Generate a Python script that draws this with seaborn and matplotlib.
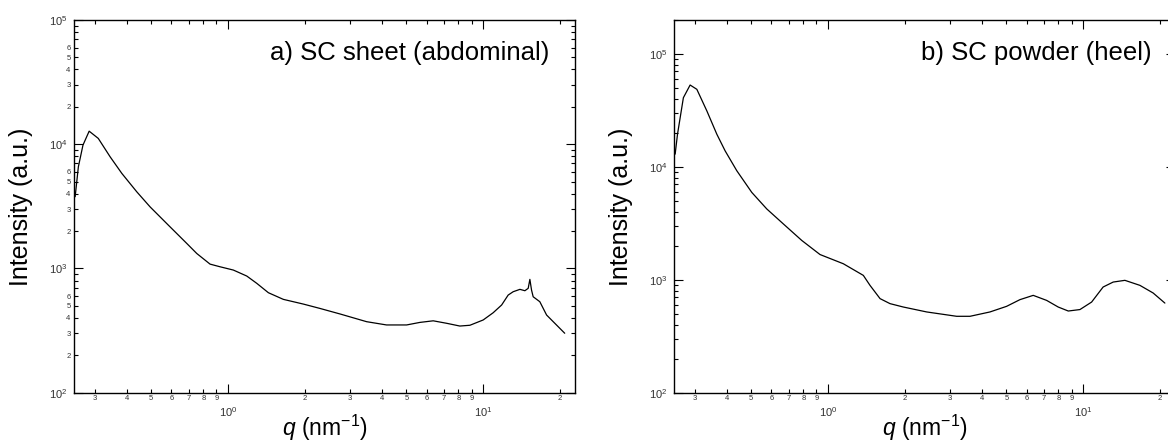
import numpy as np
import pandas as pd
import matplotlib
matplotlib.use("Agg")
import matplotlib.pyplot as plt
from matplotlib.ticker import LogLocator, FuncFormatter, NullFormatter
import seaborn as sns

# ---- data: scattering intensity vs. scattering vector q ----
q_sheet = [0.2516, 0.259, 0.270, 0.2855, 0.310, 0.345, 0.3835, 0.4388, 0.4949,
           0.5837, 0.689, 0.754, 0.850, 0.930, 1.049, 1.184, 1.296, 1.439, 1.647,
           1.972, 2.29, 2.75, 3.49, 4.18, 5.01, 5.65, 6.37, 7.19, 8.10, 8.87,
           10.0, 10.94, 11.81, 12.53, 13.11, 13.93, 14.57, 15.01, 15.24, 15.47,
           15.7, 16.67, 17.72, 20.87]
I_sheet = [3780, 6580, 9840, 12740, 11140, 7920, 5820, 4140, 3130,
           2230, 1590, 1320, 1084, 1032, 971, 869, 759, 638, 564,
           517, 477, 430, 373, 351, 351, 368, 379, 362, 344, 349,
           385, 440, 508, 611, 650, 679, 662, 692, 817, 670,
           592, 540, 422, 301]

q_powder = [0.2516, 0.257, 0.271, 0.288, 0.306, 0.335, 0.3665, 0.395, 0.4388,
            0.5025, 0.5753, 0.668, 0.789, 0.930, 1.148, 1.375, 1.460, 1.599,
            1.749, 1.972, 2.436, 3.192, 3.60, 4.311, 5.01, 5.65, 6.37, 7.19,
            7.98, 8.74, 9.71, 10.79, 11.97, 13.11, 14.57, 16.68, 18.80, 20.9]
I_powder = [12970, 19470, 41000, 53100, 48650, 31290, 19470, 13870, 9250,
            5940, 4240, 3125, 2230, 1674, 1387, 1094, 893, 681,
            615, 574, 519, 475, 475, 519, 582, 667, 728, 657,
            574, 529, 545, 635, 863, 955, 989, 893, 764, 622]

panel_titles = ["a) SC sheet (abdominal)", "b) SC powder (heel)"]
x_label = r"$q$ (nm$^{-1}$)"
y_label = "Intensity (a.u.)"

sns.set_theme(style="ticks")
plt.rcParams["font.family"] = ["Liberation Sans", "DejaVu Sans"]
plt.rcParams["mathtext.fontset"] = "custom"
plt.rcParams["mathtext.rm"] = "Liberation Sans"
plt.rcParams["mathtext.it"] = "Liberation Sans:italic"
plt.rcParams["mathtext.bf"] = "Liberation Sans:bold"

W, H = 1168, 442
fig = plt.figure(figsize=(W / 100, H / 100), dpi=100)
fig.patch.set_facecolor("white")

ax_w, ax_h = 501, 372.7
bottom = (H - 392.7) / H
ax_a = fig.add_axes([74 / W, bottom, ax_w / W, ax_h / H])
ax_b = fig.add_axes([674 / W, bottom, ax_w / W, ax_h / H])

frames = [
    pd.DataFrame({"q": q_sheet, "I": I_sheet}),
    pd.DataFrame({"q": q_powder, "I": I_powder}),
]
ylims = [(1e2, 1e5), (1e2, 2e5)]
title_x = [0.9487, 0.9535]


def major_fmt(v, pos):
    e = int(round(np.log10(v)))
    return r"$\mathregular{10^{%d}}$" % e


def minor_digit(v):
    e = np.floor(np.log10(v) + 1e-9)
    return int(round(v / 10 ** e))


x_minor_fmt = FuncFormatter(lambda v, pos: str(minor_digit(v)))
y_minor_fmt_a = FuncFormatter(
    lambda v, pos: str(minor_digit(v)) if 2 <= minor_digit(v) <= 6 else "")

for i, (ax, df) in enumerate(zip([ax_a, ax_b], frames)):
    sns.lineplot(data=df, x="q", y="I", ax=ax, color="black", lw=0.9,
                 estimator=None, sort=False)
    ax.set_xscale("log")
    ax.set_yscale("log")
    ax.set_xlim(0.249, 22.9)
    ax.set_ylim(*ylims[i])

    for axis in (ax.xaxis, ax.yaxis):
        axis.set_major_locator(LogLocator(base=10, numticks=12))
        axis.set_minor_locator(LogLocator(base=10, subs=np.arange(2, 10), numticks=12))
        axis.set_major_formatter(FuncFormatter(major_fmt))

    ax.xaxis.set_minor_formatter(x_minor_fmt)
    ax.yaxis.set_minor_formatter(y_minor_fmt_a if i == 0 else NullFormatter())

    ax.tick_params(which="both", direction="in", top=True, right=True,
                   colors="black", labelcolor="#333333")
    ax.tick_params(which="major", length=6.5, width=0.8, labelsize=8)
    ax.tick_params(which="minor", length=3, width=0.8, labelsize=5.5)
    ax.tick_params(axis="x", which="major", pad=9)
    ax.tick_params(axis="x", which="minor", pad=2)
    ax.tick_params(axis="y", which="major", pad=4.5)
    ax.tick_params(axis="y", which="minor", pad=2.5)

    for s in ax.spines.values():
        s.set_linewidth(1.0)
        s.set_color("black")
        s.set_visible(True)

    ax.set_xlabel(x_label, fontsize=16.5, color="black")
    ax.set_ylabel(y_label, fontsize=18, color="black")
    ax.xaxis.set_label_coords(0.5, -0.055)
    ax.yaxis.set_label_coords(-0.082, 0.5)

    ax.text(title_x[i], 0.893, panel_titles[i], transform=ax.transAxes,
            ha="right", va="baseline", fontsize=18.5, color="black")
    ax.set_facecolor("white")
    ax.grid(False)

fig.savefig("out.png", dpi=100, facecolor="white")
